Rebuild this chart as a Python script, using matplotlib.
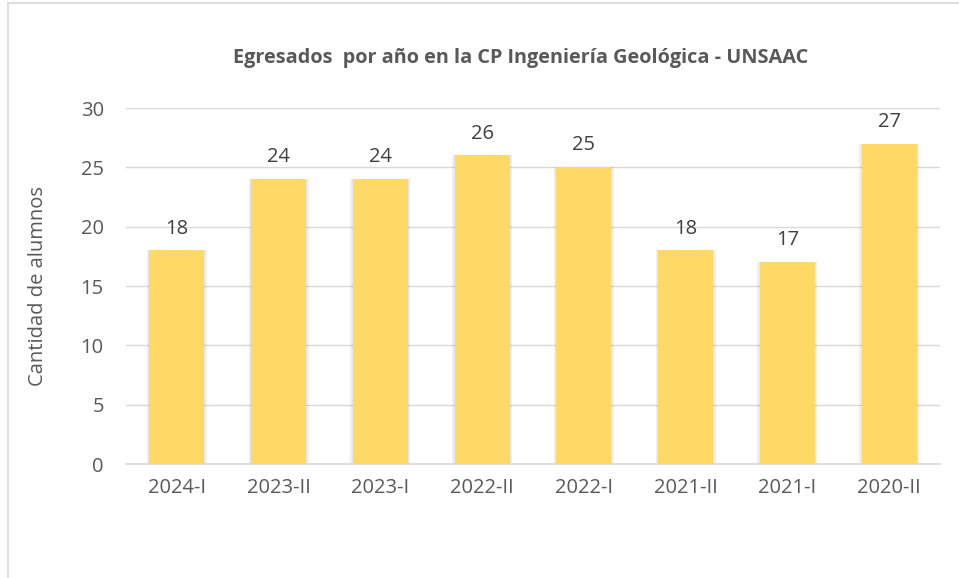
import matplotlib
matplotlib.use('Agg')
from matplotlib import pyplot as plt
from matplotlib.lines import Line2D
import numpy as np

categories = ['2024-I', '2023-II', '2023-I', '2022-II', '2022-I', '2021-II', '2021-I', '2020-II']
values = [18, 24, 24, 26, 25, 18, 17, 27]
yticks = [0, 5, 10, 15, 20, 25, 30]

plt.rcParams['font.family'] = ['Open Sans', 'DejaVu Sans']
text_color = '#595959'
grid_color = '#D9D9D9'

fig = plt.figure(figsize=(9.59, 5.78), dpi=100)
ax = fig.add_axes([0.1314, 0.1972, 0.8488, 0.6159])

x = np.arange(len(categories))
# soft shadow behind bars
for dx, a in [(-0.014, 0.12), (0.014, 0.12), (0.0, 0.08)]:
  ax.bar(x + dx, values, width=0.56, color='#7f7f7f', alpha=a, zorder=2)
bars = ax.bar(x, values, width=0.54, color='#FFD966', zorder=3)

for xi, v in zip(x, values):
  ax.text(xi, v + 1.0, str(v), ha='center', va='bottom',
          fontsize=14.5, color='#404040')

ax.set_xlim(-0.5, len(categories) - 0.5)
ax.set_ylim(0, 30)
ax.set_yticks(yticks)
ax.set_xticks(x)
ax.set_xticklabels(categories)
ax.tick_params(axis='both', length=0, labelsize=14.5, colors=text_color)
ax.tick_params(axis='x', pad=10)
ax.tick_params(axis='y', pad=16)
ax.yaxis.grid(True, color=grid_color, linewidth=1.0, zorder=0)
ax.set_axisbelow(True)
for side in ['top', 'right', 'left']:
  ax.spines[side].set_visible(False)
ax.spines['bottom'].set_color(grid_color)
ax.spines['bottom'].set_linewidth(1.2)

ax.set_ylabel('Cantidad de alumnos', fontsize=14.5, color=text_color)
ax.yaxis.set_label_coords(-0.096, 0.5)
fig.text(0.543, 0.9, 'Egresados  por año en la CP Ingeniería Geológica - UNSAAC',
         ha='center', va='center', fontsize=14.3, fontweight='bold', color=text_color)

# chart frame (left and top edges visible)
fig.add_artist(Line2D([0.0084, 0.0084], [0.0, 0.995], transform=fig.transFigure,
                      color=grid_color, linewidth=1.2))
fig.add_artist(Line2D([0.0084, 1.0], [0.995, 0.995], transform=fig.transFigure,
                      color=grid_color, linewidth=1.2))

fig.savefig('out.png', dpi=100)
